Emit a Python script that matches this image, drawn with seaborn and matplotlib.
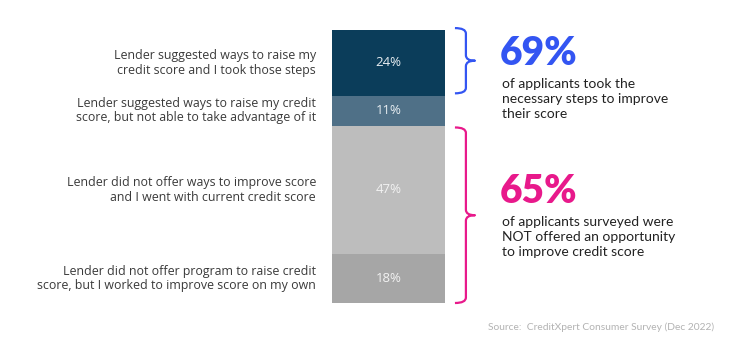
import matplotlib
matplotlib.use("Agg")
import matplotlib.pyplot as plt
from matplotlib.path import Path
from matplotlib.patches import PathPatch
import matplotlib.transforms as mtransforms
import seaborn as sns
import numpy as np

# ---- data ----
categories = [
    "Lender suggested ways to raise my\ncredit score and I took those steps",
    "Lender suggested ways to raise my credit\nscore, but not able to take advantage of it",
    "Lender did not offer ways to improve score\nand I went with current credit score",
    "Lender did not offer program to raise credit\nscore, but I worked to improve score on my own",
]
values = [24, 11, 47, 18]
value_labels = ["24%", "11%", "47%", "18%"]
seg_colors = ["#0b3d5a", "#4f7087", "#bdbdbd", "#a6a6a6"]
label_colors = ["#e8eef2", "#e8eef2", "#f2f2f2", "#f2f2f2"]

callouts = [
    {"big": "69%", "text": "of applicants took the\nnecessary steps to improve\ntheir score", "color": "#3355f2"},
    {"big": "65%", "text": "of applicants surveyed were\nNOT offered an opportunity\nto improve credit score", "color": "#e8198b"},
]
bracket_spans = [(0, 1), (2, 4)]  # segment index ranges (start, end exclusive)
source = "Source:  CreditXpert Consumer Survey (Dec 2022)"

sns.set_theme(style="white")
plt.rcParams["font.family"] = ["Open Sans", "DejaVu Sans"]

W, H = 750, 346
fig = plt.figure(figsize=(7.5, 3.46), dpi=100)

def fx(px):
    return px / W

def fy(py):
    return 1 - py / H

# bar axes
ax = fig.add_axes([fx(332), fy(303), fx(445) - fx(332), fy(30) - fy(303)])

starts = np.concatenate([[0], np.cumsum(values)[:-1]])
for v, s, c in zip(values, starts, seg_colors):
    sns.barplot(x=["all"], y=[v], bottom=s, color=c, width=1.0, ax=ax,
                saturation=1, edgecolor="none", linewidth=0)

ax.set_xlim(-0.5, 0.5)
ax.set_ylim(sum(values), 0)
ax.axis("off")

# segment labels & category labels
lab_trans = mtransforms.blended_transform_factory(ax.transAxes, ax.transData)
for i, (v, s) in enumerate(zip(values, starts)):
    mid = s + v / 2
    ax.text(0, mid, value_labels[i], ha="center", va="center",
            fontsize=9.5, color=label_colors[i])
    ax.text(-0.142, mid, categories[i], ha="right", va="center",
            fontsize=8.9, color="#3a3a3a", linespacing=1.18,
            transform=lab_trans)

# brackets
trans = mtransforms.blended_transform_factory(ax.transAxes, ax.transData)
bounds = np.concatenate([[0], np.cumsum(values)])

def bracket(y0, y1, color):
    x0, xv, xt = 1.088, 1.185, 1.265
    c = 2.0  # curvature in data units
    ym = (y0 + y1) / 2
    verts = [
        (x0, y0), (xv, y0), (xv, y0 + c),
        (xv, ym - c), (xv, ym), (xt, ym),
        (xv, ym), (xv, ym + c),
        (xv, y1 - c), (xv, y1), (x0, y1),
    ]
    codes = [Path.MOVETO, Path.CURVE3, Path.CURVE3,
             Path.LINETO, Path.CURVE3, Path.CURVE3,
             Path.CURVE3, Path.CURVE3,
             Path.LINETO, Path.CURVE3, Path.CURVE3]
    p = PathPatch(Path(verts, codes), transform=trans, fill=False,
                  edgecolor=color, linewidth=1.6, clip_on=False,
                  capstyle="butt", joinstyle="round")
    ax.add_patch(p)

bracket(bounds[bracket_spans[0][0]] - 0.7, bounds[bracket_spans[0][1]] - 0.8,
        callouts[0]["color"])
bracket(bounds[bracket_spans[1][0]] + 0.7, bounds[bracket_spans[1][1]],
        callouts[1]["color"])

# callout texts
big_font = ["Lato", "DejaVu Sans"]
for co, base_y, top_y in zip(callouts, [65, 203], [78, 216]):
    fig.text(fx(500), fy(base_y), co["big"], ha="left", va="baseline",
             fontsize=28, fontweight="heavy", color=co["color"], family=big_font)
    fig.text(fx(502), fy(top_y), co["text"], ha="left", va="top",
             fontsize=10, color="#222222", linespacing=1.3, family=big_font)

fig.text(fx(714), fy(327), source, ha="right", va="center", fontsize=7.4,
         color="#b3b3b3", family=big_font)

fig.savefig("out.png", dpi=100, facecolor="white")
